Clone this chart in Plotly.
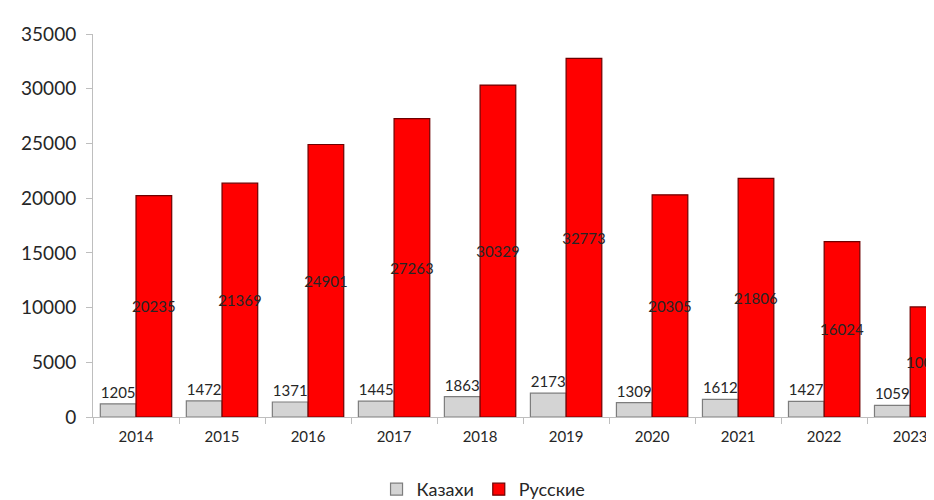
import plotly.graph_objects as go

years = ["2014", "2015", "2016", "2017", "2018", "2019", "2020", "2021", "2022", "2023"]
kazakhs = [1205, 1472, 1371, 1445, 1863, 2173, 1309, 1612, 1427, 1059]
russians = [20235, 21369, 24901, 27263, 30329, 32773, 20305, 21806, 16024, 10056]

text_color = "rgb(38,38,38)"
axis_color = "rgb(190,190,190)"

fig = go.Figure()

fig.add_trace(go.Bar(x=years, y=kazakhs, name="Казахи",
                     marker=dict(color="rgb(212,212,212)",
                                 line=dict(color="rgb(125,125,125)", width=1.2)),
                     text=kazakhs, textposition="outside", textangle=0,
                     constraintext="none",
                     textfont=dict(size=15, color=text_color)))

fig.add_trace(go.Bar(x=years, y=russians, name="Русские",
                     marker=dict(color="rgb(255,0,0)",
                                 line=dict(color="rgb(110,0,0)", width=1.2)),
                     text=russians, textposition="inside", textangle=0,
                     insidetextanchor="middle", constraintext="none",
                     textfont=dict(size=15, color=text_color)))

fig.update_layout(
    width=934, height=500,
    template="simple_white",
    font=dict(family="Lato, Open Sans, sans-serif", size=14, color=text_color),
    margin=dict(l=85, r=0, t=26, b=84),
    barmode="group", bargap=0.17, bargroupgap=0,
    plot_bgcolor="white", paper_bgcolor="white",
    legend=dict(orientation="h", x=0.46, xanchor="center", y=-0.19, yanchor="middle",
                font=dict(size=18), itemwidth=30, traceorder="normal"),
)

# last category runs past the right edge, as in the original
fig.update_xaxes(range=[-0.5, 9.37], automargin=False, showline=True, linecolor=axis_color,
                 linewidth=1, ticks="outside", tickson="boundaries", ticklen=6,
                 tickcolor=axis_color, ticklabelstandoff=6,
                 tickfont=dict(size=15, color=text_color), showgrid=False)
fig.update_yaxes(range=[0, 35000], dtick=5000, automargin=False, showline=True,
                 linecolor=axis_color, linewidth=1, ticks="outside", ticklen=6,
                 tickcolor=axis_color, showgrid=False, tickformat="d",
                 ticklabelstandoff=6, tickfont=dict(size=19, color=text_color))

fig.write_html("out.html")
